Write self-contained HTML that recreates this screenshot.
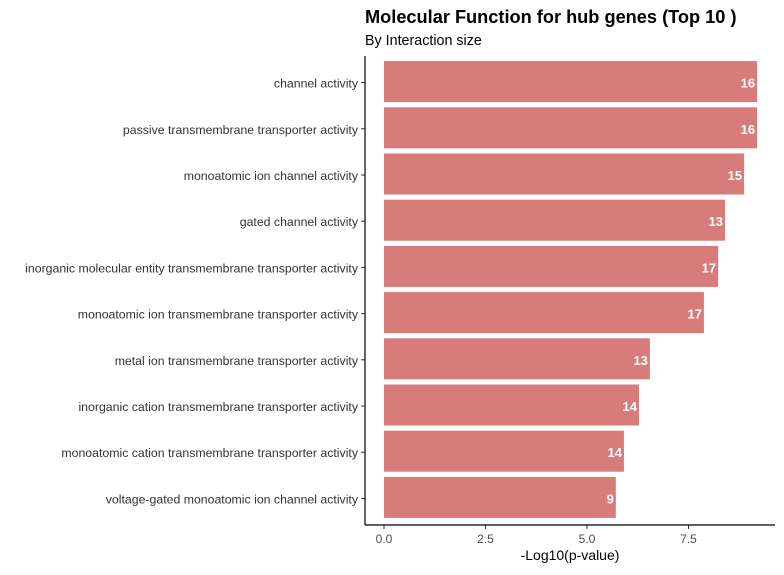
<!DOCTYPE html>
<html><head><meta charset="utf-8"><style>
body{margin:0;background:#fff;font-family:"Liberation Sans",Arial,sans-serif}
</style></head><body>
<svg width="784" height="570" xmlns="http://www.w3.org/2000/svg" style="font-family:'Liberation Sans',Arial,sans-serif">
<text x="365" y="23" font-size="18.2" font-weight="bold" fill="#000">Molecular Function for hub genes (Top 10 )</text>
<text x="365" y="45" font-size="14.3" fill="#000">By Interaction size</text>
<g id="plot"></g>
<line x1="365" y1="56" x2="365" y2="525" stroke="#000" stroke-width="1.2"/>
<line x1="365" y1="525" x2="775" y2="525" stroke="#000" stroke-width="1.2"/>
<text x="570" y="560" font-size="14" text-anchor="middle" fill="#000">-Log10(p-value)</text>
</svg>
<script>
const categories=["channel activity","passive transmembrane transporter activity","monoatomic ion channel activity","gated channel activity","inorganic molecular entity transmembrane transporter activity","monoatomic ion transmembrane transporter activity","metal ion transmembrane transporter activity","inorganic cation transmembrane transporter activity","monoatomic cation transmembrane transporter activity","voltage-gated monoatomic ion channel activity"];
const values=[9.19,9.19,8.87,8.40,8.23,7.88,6.55,6.28,5.91,5.71];
const counts=[16,16,15,13,17,17,13,14,14,9];
const xTicks=[0,2.5,5,7.5];
const xTickLabels=["0.0","2.5","5.0","7.5"];
const NS="http://www.w3.org/2000/svg";
const g=document.getElementById('plot');
const x=v=>384+v*40.6;
const bandTop=58.5, band=46.2, bh=41;
const yc=i=>bandTop+band*i+band/2;
function mk(t,a){const e=document.createElementNS(NS,t);for(const k in a)e.setAttribute(k,a[k]);g.appendChild(e);return e;}
categories.forEach((c,i)=>{
  const r=mk('rect',{x:x(0),y:yc(i)-bh/2,width:x(values[i])-x(0),height:bh,fill:'#d77c7b'});
  
  
  const t=mk('text',{x:x(values[i])-2,y:yc(i)+6,'font-size':13,'font-weight':'bold',fill:'#fff','text-anchor':'end'});
  t.textContent=counts[i];
  
  
  const l=mk('text',{x:358,y:yc(i)+6,'font-size':12.3,fill:'#333','text-anchor':'end'});
  l.textContent=c;
  
  
  const tk=mk('line',{x1:361,x2:365,y1:yc(i)+1,y2:yc(i)+1,stroke:'#333'});
  
  
});
xTicks.forEach((v,i)=>{
  const tk=mk('line',{x1:x(v),x2:x(v),y1:525,y2:529,stroke:'#333'});
  
  
  const t=mk('text',{x:x(v),y:543,'font-size':12,fill:'#4d4d4d','text-anchor':'middle'});
  t.textContent=xTickLabels[i];
  
  
});
</script>
</body></html>
